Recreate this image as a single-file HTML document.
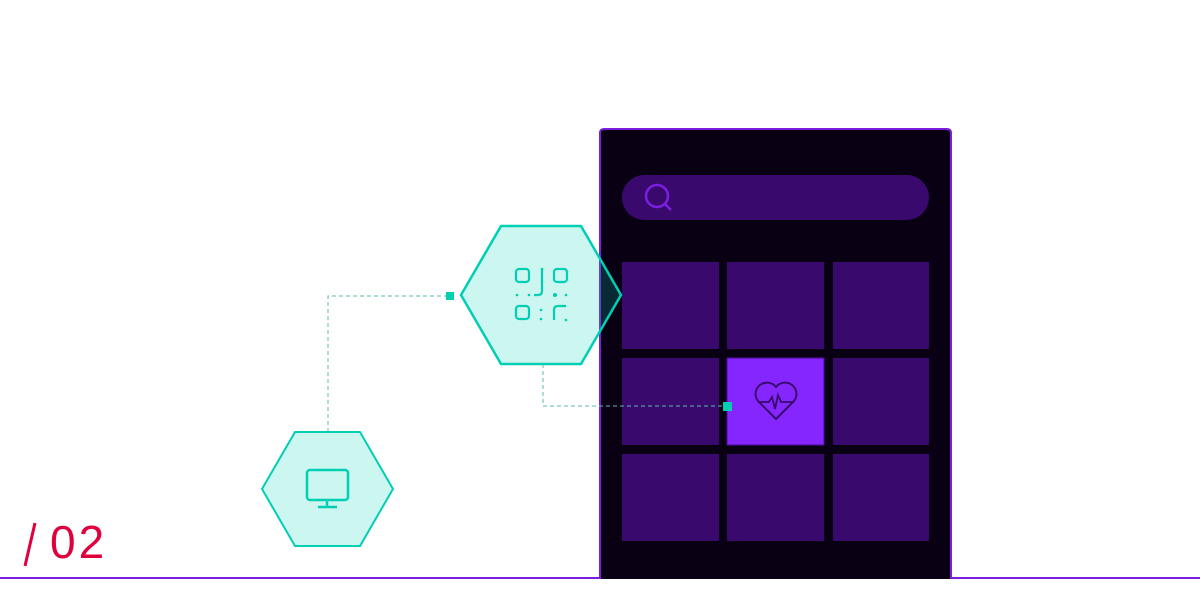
<!DOCTYPE html>
<html><head><meta charset="utf-8"><style>html,body{margin:0;padding:0;background:#fff}svg{display:block}</style></head><body>
<svg width="1200" height="600" viewBox="0 0 1200 600" xmlns="http://www.w3.org/2000/svg">
<line x1="0" y1="578" x2="600" y2="578" stroke="#7a1fe0" stroke-width="2"/>
<line x1="951" y1="578" x2="1200" y2="578" stroke="#7a1fe0" stroke-width="2"/>
<path d="M600,579 V133 Q600,129 604,129 H947 Q951,129 951,133 V579" fill="#0a0014" stroke="#7a1fe0" stroke-width="2"/>
<rect x="622" y="175" width="307" height="45" rx="22.5" fill="#3a096e"/>
<circle cx="657" cy="196" r="11" fill="none" stroke="#7a1fe0" stroke-width="2.5"/>
<line x1="665" y1="204" x2="671" y2="210" stroke="#7a1fe0" stroke-width="2.5"/>
<g fill="#3a096e">
<rect x="622" y="262" width="97" height="87"/><rect x="727" y="262" width="97" height="87"/><rect x="833" y="262" width="96" height="87"/>
<rect x="622" y="358" width="97" height="87"/><rect x="833" y="358" width="96" height="87"/>
<rect x="622" y="454" width="97" height="87"/><rect x="727" y="454" width="97" height="87"/><rect x="833" y="454" width="96" height="87"/>
</g>
<rect x="727" y="358" width="97" height="87" fill="#8526ff" stroke="#4a0d9a" stroke-width="1"/>
<path d="M776,419 L758,401 A10,10 0 0 1 776,387 A10,10 0 0 1 794,401 Z" fill="none" stroke="#3a096e" stroke-width="2" stroke-linejoin="round"/>
<polyline points="758,402 769,402 772,397 775,409 778,395 781,402 794,402" fill="none" stroke="#3a096e" stroke-width="1.8"/>
<g stroke="#5fb8b0" stroke-width="1" stroke-dasharray="4,3" fill="none">
<polyline points="328,432 328,296 450,296"/>
<polyline points="543,364 543,406 727,406"/>
</g>
<rect x="446" y="292" width="8" height="8" fill="#00cfb4"/>
<rect x="723" y="402" width="9" height="9" fill="#00cfb4"/>
<polygon points="461,295 501,226 581,226 621,295 581,364 501,364" fill="rgba(0,210,180,0.2)" stroke="#00cfb4" stroke-width="2.5"/>
<g fill="none" stroke="#00cfb4" stroke-width="2.2">
<rect x="516" y="269" width="13" height="13" rx="3"/>
<rect x="554" y="269" width="13" height="13" rx="3"/>
<rect x="516" y="306" width="13" height="13" rx="3"/>
<path d="M542,269 V291 Q542,295 538,295 H534"/>
<path d="M554,320 V310 Q554,306 558,306 H566"/>
</g>
<g fill="#00cfb4"><circle cx="517" cy="295" r="1.3"/><circle cx="529" cy="295" r="1.3"/><circle cx="555" cy="295" r="2"/><circle cx="566" cy="295" r="1.3"/><circle cx="542" cy="269" r="1.3"/><circle cx="541" cy="310" r="1.3"/><circle cx="541" cy="319" r="1.3"/><circle cx="566" cy="320" r="1.3"/></g>
<polygon points="262,489 295,432 360,432 393,489 360,546 295,546" fill="rgba(0,210,180,0.2)" stroke="#00cfb4" stroke-width="2"/>
<rect x="307" y="470" width="41" height="30" rx="3" fill="none" stroke="#00cfb4" stroke-width="2.5"/>
<line x1="327" y1="500" x2="327" y2="507" stroke="#00cfb4" stroke-width="2.5"/>
<line x1="318" y1="507" x2="337" y2="507" stroke="#00cfb4" stroke-width="2.5"/>
<line x1="25" y1="566" x2="35" y2="523" stroke="#e0003c" stroke-width="3"/>
<text x="50" y="558" font-family="Liberation Sans, sans-serif" font-size="46" fill="#e0003c" letter-spacing="3">02</text>
</svg>
</body></html>
